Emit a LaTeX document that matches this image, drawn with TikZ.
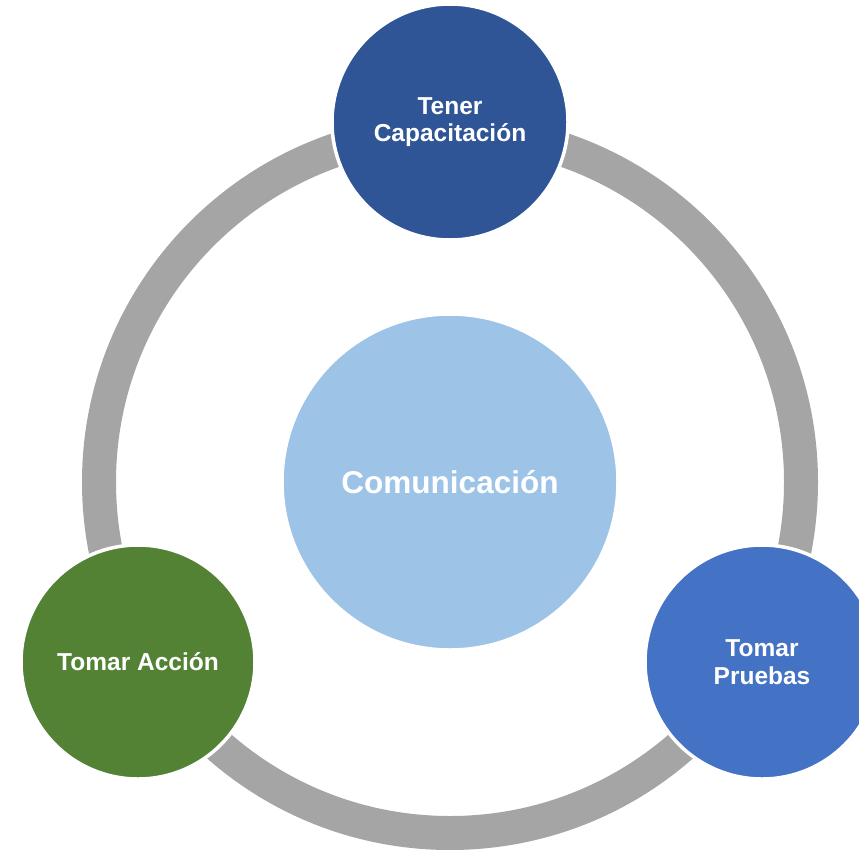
\documentclass[tikz,border=0pt]{standalone}
\usepackage{fontspec}
\setmainfont{Liberation Sans}
\definecolor{ringgray}{HTML}{A5A5A5}
\definecolor{topblue}{HTML}{2F5597}
\definecolor{centerblue}{HTML}{9DC3E6}
\definecolor{leftgreen}{HTML}{548235}
\definecolor{rightblue}{HTML}{4472C4}
\begin{document}
\begin{tikzpicture}[x=1pt,y=-1pt,
  bubble/.style={circle,draw=white,line width=3.5pt,inner sep=0pt,text=white,font=\bfseries,align=center},
  smalltext/.style={font=\fontsize{24.5}{27.5}\selectfont\bfseries}]
\useasboundingbox (0,0) rectangle (859,849);
\draw[ringgray,line width=34pt] (450,482) circle[radius=351];
\node[bubble,fill=centerblue,minimum size=336pt,font=\fontsize{31.5}{36}\selectfont\bfseries] (center) at (450,482) {Comunicación};
\node[bubble,fill=topblue,minimum size=236pt,smalltext] (top) at (450,122) {Tener\\Capacitación};
\node[bubble,fill=leftgreen,minimum size=234pt,smalltext] (left) at (138,662) {Tomar Acción};
\node[bubble,fill=rightblue,minimum size=234pt,smalltext] (right) at (762,662) {Tomar\\Pruebas};
\end{tikzpicture}
\end{document}
